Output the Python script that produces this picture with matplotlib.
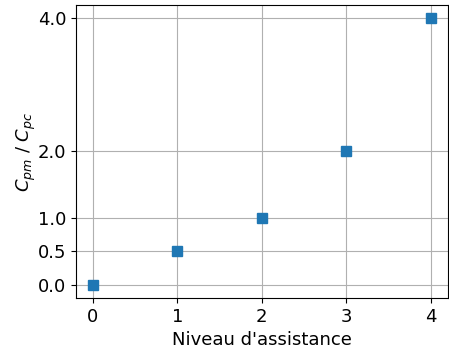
import matplotlib
matplotlib.use("Agg")
import matplotlib.pyplot as plt

niveaux = [0, 1, 2, 3, 4]
ratio = [0.0, 0.5, 1.0, 2.0, 4.0]
yticks = [0.0, 0.5, 1.0, 2.0, 4.0]

plt.rcParams["font.size"] = 13

fig = plt.figure(figsize=(4.49, 3.49), dpi=100)
ax = fig.add_axes([0.169, 0.146, 0.828, 0.84])
ax.plot(niveaux, ratio, "s", color="tab:blue", markersize=7)
ax.set_xticks(niveaux)
ax.set_yticks(yticks)
ax.grid(True)
ax.set_axisbelow(True)
ax.set_xlabel("Niveau d'assistance")
ax.set_ylabel("$C_{pm}$ / $C_{pc}$", labelpad=0)

fig.savefig("out.png", dpi=100)
